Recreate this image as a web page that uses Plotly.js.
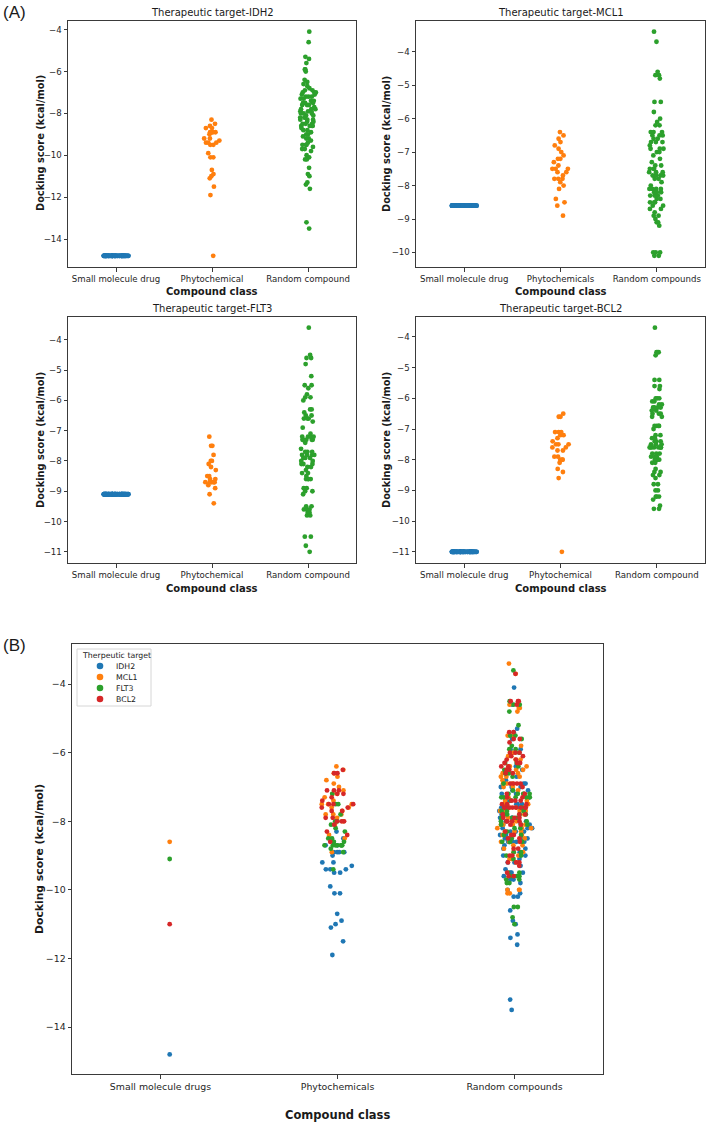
<!DOCTYPE html>
<html><head><meta charset="utf-8">
<script src="https://cdn.plot.ly/plotly-3.0.1.min.js"></script>
<style>html,body{margin:0;padding:0;background:#fff}#chart{width:708px;height:1124px}</style>
</head><body><div id="chart"></div>
<script>
// ---------------- DATA ----------------
const targets = ['IDH2', 'MCL1', 'FLT3', 'BCL2'];
const catsIDH2 = ['Small molecule drug', 'Phytochemical', 'Random compound'];
const catsMCL1 = ['Small molecule drug', 'Phytochemicals', 'Random compounds'];
const catsFLT3 = ['Small molecule drug', 'Phytochemical', 'Random compound'];
const catsBCL2 = ['Small molecule drug', 'Phytochemical', 'Random compound'];
const catsAll  = ['Small molecule drugs', 'Phytochemicals', 'Random compounds'];

// docking score of the reference small-molecule drug for each target
const drugScores = [-14.8, -8.6, -9.1, -11.0];

// small molecule drug rows as plotted in panel (A) (same score repeated for every row)
const idh2Drug = [
  -14.8,-14.8,-14.8,-14.8,-14.8,-14.8,-14.8,-14.8,-14.8,-14.8,-14.8,-14.8,-14.8,-14.8,-14.8,-14.8,-14.8,-14.8,-14.8,-14.8,
  -14.8,-14.8,-14.8,-14.8,-14.8,-14.8,-14.8,-14.8,-14.8,-14.8,-14.8,-14.8,-14.8,-14.8,-14.8,-14.8,-14.8,-14.8,-14.8,-14.8,
  -14.8,-14.8,-14.8,-14.8,-14.8,-14.8,-14.8,-14.8,-14.8,-14.8,-14.8,-14.8,-14.8,-14.8,-14.8,-14.8,-14.8,-14.8,-14.8,-14.8,
  -14.8,-14.8,-14.8,-14.8,-14.8,-14.8,-14.8,-14.8,-14.8,-14.8,-14.8,-14.8,-14.8,-14.8,-14.8,-14.8,-14.8,-14.8,-14.8,-14.8];
const mcl1Drug = [
  -8.6,-8.6,-8.6,-8.6,-8.6,-8.6,-8.6,-8.6,-8.6,-8.6,-8.6,-8.6,-8.6,-8.6,-8.6,-8.6,-8.6,-8.6,-8.6,-8.6,
  -8.6,-8.6,-8.6,-8.6,-8.6,-8.6,-8.6,-8.6,-8.6,-8.6,-8.6,-8.6,-8.6,-8.6,-8.6,-8.6,-8.6,-8.6,-8.6,-8.6,
  -8.6,-8.6,-8.6,-8.6,-8.6,-8.6,-8.6,-8.6,-8.6,-8.6,-8.6,-8.6,-8.6,-8.6,-8.6,-8.6,-8.6,-8.6,-8.6,-8.6,
  -8.6,-8.6,-8.6,-8.6,-8.6,-8.6,-8.6,-8.6,-8.6,-8.6,-8.6,-8.6,-8.6,-8.6,-8.6,-8.6,-8.6,-8.6,-8.6,-8.6];
const flt3Drug = [
  -9.1,-9.1,-9.1,-9.1,-9.1,-9.1,-9.1,-9.1,-9.1,-9.1,-9.1,-9.1,-9.1,-9.1,-9.1,-9.1,-9.1,-9.1,-9.1,-9.1,
  -9.1,-9.1,-9.1,-9.1,-9.1,-9.1,-9.1,-9.1,-9.1,-9.1,-9.1,-9.1,-9.1,-9.1,-9.1,-9.1,-9.1,-9.1,-9.1,-9.1,
  -9.1,-9.1,-9.1,-9.1,-9.1,-9.1,-9.1,-9.1,-9.1,-9.1,-9.1,-9.1,-9.1,-9.1,-9.1,-9.1,-9.1,-9.1,-9.1,-9.1,
  -9.1,-9.1,-9.1,-9.1,-9.1,-9.1,-9.1,-9.1,-9.1,-9.1,-9.1,-9.1,-9.1,-9.1,-9.1,-9.1,-9.1,-9.1,-9.1,-9.1];
const bcl2Drug = [
  -11.0,-11.0,-11.0,-11.0,-11.0,-11.0,-11.0,-11.0,-11.0,-11.0,-11.0,-11.0,-11.0,-11.0,-11.0,-11.0,-11.0,-11.0,-11.0,-11.0,
  -11.0,-11.0,-11.0,-11.0,-11.0,-11.0,-11.0,-11.0,-11.0,-11.0,-11.0,-11.0,-11.0,-11.0,-11.0,-11.0,-11.0,-11.0,-11.0,-11.0,
  -11.0,-11.0,-11.0,-11.0,-11.0,-11.0,-11.0,-11.0,-11.0,-11.0,-11.0,-11.0,-11.0,-11.0,-11.0,-11.0,-11.0,-11.0,-11.0,-11.0,
  -11.0,-11.0,-11.0,-11.0,-11.0,-11.0,-11.0,-11.0,-11.0,-11.0,-11.0,-11.0,-11.0,-11.0,-11.0,-11.0,-11.0,-11.0,-11.0,-11.0];

// phytochemicals
const idh2Phyto = [-8.3,-8.5,-8.6,-8.7,-8.7,-8.9,-8.9,-8.9,-8.9,-9.0,-9.2,-9.2,-9.3,-9.4,-9.4,-9.4,-9.5,-9.5,
                   -9.9,-10.1,-10.1,-10.7,-10.9,-11.0,-11.1,-11.5,-11.9];
const mcl1Phyto = [-6.4,-6.5,-6.6,-6.7,-6.8,-6.9,-7.0,-7.1,-7.2,-7.2,-7.3,-7.4,-7.5,-7.5,-7.5,-7.6,-7.6,-7.7,
                   -7.8,-7.8,-7.8,-7.9,-8.0,-8.1,-8.4,-8.5,-8.9];
const flt3Phyto = [-7.2,-7.5,-7.5,-7.8,-8.0,-8.0,-8.1,-8.2,-8.3,-8.5,-8.5,-8.6,-8.6,-8.7,-8.7,-8.7,-8.7,-8.7,
                   -8.7,-8.7,-8.8,-8.9,-9.4];
const bcl2Phyto = [-6.5,-6.6,-6.6,-7.1,-7.1,-7.1,-7.2,-7.2,-7.3,-7.4,-7.5,-7.5,-7.5,-7.6,-7.6,-7.7,-7.7,-7.9,
                   -7.9,-8.0,-8.0,-8.0,-8.1,-8.3,-8.4,-8.6];

// random compounds
const idh2Random = [-4.1,-4.6,-5.3,-5.4,-5.6,-5.9,-5.9,-6.0,-6.4,-6.5,-6.6,-6.7,-6.8,-6.9,-6.9,-7.0,-7.0,-7.0,
  -7.1,-7.1,-7.2,-7.2,-7.2,-7.3,-7.3,-7.4,-7.4,-7.5,-7.5,-7.5,-7.6,-7.6,-7.6,-7.7,-7.8,-7.8,-7.8,-7.9,-7.9,-7.9,
  -8.0,-8.0,-8.0,-8.1,-8.1,-8.2,-8.2,-8.2,-8.3,-8.3,-8.3,-8.4,-8.4,-8.5,-8.5,-8.5,-8.6,-8.6,-8.6,-8.6,-8.7,
  -8.8,-8.8,-8.9,-9.0,-9.0,-9.1,-9.2,-9.2,-9.3,-9.4,-9.5,-9.5,-9.5,-9.6,-9.7,-9.7,-9.8,-10.0,-10.1,-10.2,-10.2,
  -10.6,-10.9,-11.0,-11.3,-11.4,-11.6,-13.2,-13.5];
const mcl1Random = [-3.4,-3.7,-4.6,-4.7,-4.7,-4.8,-5.5,-5.5,-5.8,-6.0,-6.1,-6.2,-6.2,-6.4,-6.4,-6.4,-6.5,-6.5,
  -6.5,-6.6,-6.6,-6.7,-6.7,-6.7,-6.8,-6.9,-6.9,-6.9,-7.0,-7.0,-7.1,-7.2,-7.3,-7.4,-7.4,-7.5,-7.5,-7.5,-7.6,-7.6,
  -7.6,-7.7,-7.7,-7.7,-7.7,-7.8,-7.8,-7.9,-8.0,-8.1,-8.1,-8.1,-8.1,-8.2,-8.2,-8.2,-8.3,-8.3,-8.3,-8.4,-8.4,
  -8.5,-8.5,-8.5,-8.6,-8.6,-8.7,-8.7,-8.8,-8.9,-8.9,-9.0,-9.1,-9.1,-9.2,-10.0,-10.0,-10.0,-10.1,-10.1];
const flt3Random = [-3.6,-4.5,-4.6,-4.6,-4.8,-5.2,-5.5,-5.5,-5.6,-5.8,-5.9,-5.9,-6.0,-6.3,-6.3,-6.4,-6.5,-6.5,
  -6.6,-6.6,-6.6,-6.7,-6.9,-7.1,-7.2,-7.2,-7.2,-7.2,-7.3,-7.3,-7.3,-7.3,-7.3,-7.4,-7.6,-7.7,-7.7,-7.7,-7.8,-7.8,
  -7.8,-7.8,-7.9,-7.9,-7.9,-8.0,-8.0,-8.1,-8.1,-8.1,-8.2,-8.2,-8.3,-8.4,-8.4,-8.5,-8.6,-8.6,-8.6,-8.6,-8.9,
  -8.9,-9.0,-9.0,-9.1,-9.5,-9.5,-9.6,-9.6,-9.6,-9.7,-9.7,-9.8,-9.8,-10.5,-10.5,-10.8,-11.0];
const bcl2Random = [-3.7,-4.5,-4.5,-4.5,-4.6,-5.4,-5.4,-5.6,-5.6,-5.7,-6.0,-6.0,-6.0,-6.1,-6.1,-6.2,-6.2,-6.3,
  -6.3,-6.3,-6.3,-6.4,-6.4,-6.5,-6.5,-6.5,-6.6,-6.6,-6.9,-6.9,-6.9,-6.9,-7.0,-7.2,-7.2,-7.3,-7.3,-7.4,-7.4,
  -7.4,-7.5,-7.5,-7.5,-7.6,-7.6,-7.6,-7.6,-7.6,-7.6,-7.6,-7.6,-7.8,-7.8,-7.8,-7.9,-7.9,-7.9,-8.0,-8.0,-8.0,
  -8.0,-8.1,-8.1,-8.3,-8.4,-8.4,-8.5,-8.5,-8.6,-8.8,-8.8,-9.0,-9.0,-9.2,-9.2,-9.2,-9.3,-9.5,-9.6,-9.6];

// ---------------- STYLE ----------------
const COLORS = ['#1f77b4', '#ff7f0e', '#2ca02c', '#d62728'];
const W = 708, H = 1124;
const FONT = 'DejaVu Sans, sans-serif';
const px = v => v / W;
const py = v => 1 - v / H;

function strip(xa, ya, cat, vals, color, jit) {
  return {
    type: 'box', xaxis: xa, yaxis: ya,
    x: vals.map(() => cat), y: vals,
    boxpoints: 'all', jitter: jit, pointpos: 0, width: 1,
    fillcolor: 'rgba(0,0,0,0)', line: {width: 0, color: 'rgba(0,0,0,0)'},
    marker: {color: color, size: 4.8, line: {width: 0}},
    showlegend: false, hoverinfo: 'y'
  };
}

const panels = [
  {cats: catsIDH2, drug: idh2Drug, phyto: idh2Phyto, rnd: idh2Random, d: drugScores[0], xa: 'x',  ya: 'y'},
  {cats: catsMCL1, drug: mcl1Drug, phyto: mcl1Phyto, rnd: mcl1Random, d: drugScores[1], xa: 'x2', ya: 'y2'},
  {cats: catsFLT3, drug: flt3Drug, phyto: flt3Phyto, rnd: flt3Random, d: drugScores[2], xa: 'x3', ya: 'y3'},
  {cats: catsBCL2, drug: bcl2Drug, phyto: bcl2Phyto, rnd: bcl2Random, d: drugScores[3], xa: 'x4', ya: 'y4'}
];

const traces = [];
panels.forEach(p => {
  traces.push(strip(p.xa, p.ya, p.cats[0], p.drug, COLORS[0], 0.26));
  traces.push(strip(p.xa, p.ya, p.cats[1], p.phyto.concat([p.d]), COLORS[1], 0.19));
  traces.push(strip(p.xa, p.ya, p.cats[2], p.rnd, COLORS[2], 0.19));
});

// panel (B): all targets overlaid, coloured by target
const phytoByTarget = [idh2Phyto, mcl1Phyto, flt3Phyto, bcl2Phyto];
const randomByTarget = [idh2Random, mcl1Random, flt3Random, bcl2Random];
targets.forEach((t, i) => {
  const x = [catsAll[0]].concat(phytoByTarget[i].map(() => catsAll[1]), randomByTarget[i].map(() => catsAll[2]));
  const y = [drugScores[i]].concat(phytoByTarget[i], randomByTarget[i]);
  const tr = strip('x5', 'y5', null, y, COLORS[i], 0.2);
  tr.x = x; tr.name = t;
  traces.push(tr);
});

function xAxis(dom, anchor, cats, fs) {
  return {domain: dom, anchor: anchor, type: 'category', categoryorder: 'array', categoryarray: cats,
    range: [-0.5, 2.5], showline: true, mirror: true, linecolor: '#3a3a3a', linewidth: 1,
    ticks: 'outside', ticklen: 3.5, tickcolor: '#3a3a3a', showgrid: false, zeroline: false,
    tickfont: {family: FONT, size: fs, color: '#262626'}, fixedrange: true};
}
function yAxis(dom, anchor, range, dtick, fs) {
  return {domain: dom, anchor: anchor, range: range, dtick: dtick, tick0: 0,
    showline: true, mirror: true, linecolor: '#3a3a3a', linewidth: 1,
    ticks: 'outside', ticklen: 3.5, tickcolor: '#3a3a3a', showgrid: false, zeroline: false,
    tickfont: {family: FONT, size: fs, color: '#262626'}, fixedrange: true};
}

const xL = [px(68), px(356)], xR = [px(416), px(705)];
const yT = [py(267), py(20.5)], yBt = [py(563), py(316.5)];

function ann(text, x, y, size, opts) {
  return Object.assign({text: text, x: px(x), y: py(y), xref: 'paper', yref: 'paper',
    showarrow: false, xanchor: 'center', yanchor: 'middle',
    font: {family: FONT, size: size, color: '#1a1a1a'}}, opts || {});
}
const LBL = {family: 'Liberation Sans, Arial, sans-serif', size: 17, color: '#1a1a1a'};

const annotations = [
  ann('(A)', 14, 13, 17, {font: LBL}),
  ann('(B)', 14, 645, 17, {font: LBL}),
  ann('Therapeutic target-IDH2', 212, 12.5, 10),
  ann('Therapeutic target-MCL1', 560.5, 12.5, 10),
  ann('Therapeutic target-FLT3', 212, 308, 10),
  ann('Therapeutic target-BCL2', 560.5, 308, 10),
  ann('<b>Compound class</b>', 212, 292, 10),
  ann('<b>Compound class</b>', 560.5, 292, 10),
  ann('<b>Compound class</b>', 212, 588.5, 10),
  ann('<b>Compound class</b>', 560.5, 588.5, 10),
  ann('<b>Docking score (kcal/mol)</b>', 40, 143, 9.8, {textangle: -90}),
  ann('<b>Docking score (kcal/mol)</b>', 386, 144, 9.8, {textangle: -90}),
  ann('<b>Docking score (kcal/mol)</b>', 40, 440, 9.8, {textangle: -90}),
  ann('<b>Docking score (kcal/mol)</b>', 386, 440, 9.8, {textangle: -90}),
  ann('<b>Compound class</b>', 337.5, 1115, 11.5),
  ann('<b>Docking score (kcal/mol)</b>', 39, 859, 10.8, {textangle: -90})
];

// legend box of panel (B), drawn in matplotlib's compact style
const shapes = [{type: 'rect', xref: 'paper', yref: 'paper', x0: px(77), x1: px(151), y0: py(706), y1: py(649),
  line: {color: '#d6d6d6', width: 1}, fillcolor: 'rgba(255,255,255,0.85)', layer: 'above'}];
annotations.push(ann('Therpeutic target', 79.5, 655, 7.8, {xanchor: 'left'}));
targets.forEach((t, i) => {
  const cy = 666 + i * 11;
  shapes.push({type: 'circle', xref: 'paper', yref: 'paper', x0: px(96.7), x1: px(103.3),
    y0: py(cy + 3.3), y1: py(cy - 3.3), fillcolor: COLORS[i], line: {width: 0}, layer: 'above'});
  annotations.push(ann(t, 114, cy, 7.8, {xanchor: 'left'}));
});

const layout = {
  width: W, height: H, margin: {l: 0, r: 0, t: 0, b: 0},
  paper_bgcolor: '#fff', plot_bgcolor: '#fff',
  font: {family: FONT, color: '#262626'},
  boxmode: 'overlay',
  showlegend: false,
  xaxis:  xAxis(xL, 'y',  catsIDH2, 8.6),
  yaxis:  yAxis(yT, 'x',  [-15.335, -3.565], 2, 8.6),
  xaxis2: xAxis(xR, 'y2', catsMCL1, 8.6),
  yaxis2: yAxis(yT, 'x2', [-10.435, -3.065], 1, 8.6),
  xaxis3: xAxis(xL, 'y3', catsFLT3, 8.6),
  yaxis3: yAxis(yBt, 'x3', [-11.37, -3.23], 1, 8.6),
  xaxis4: xAxis(xR, 'y4', catsBCL2, 8.6),
  yaxis4: yAxis(yBt, 'x4', [-11.365, -3.335], 1, 8.6),
  xaxis5: xAxis([px(72), px(603)], 'y5', catsAll, 9.4),
  yaxis5: yAxis([py(1074), py(644)], 'x5', [-15.37, -2.83], 2, 9.4),
  shapes: shapes,
  annotations: annotations
};

Plotly.newPlot('chart', traces, layout, {displayModeBar: false, staticPlot: true});
</script>
</body></html>
